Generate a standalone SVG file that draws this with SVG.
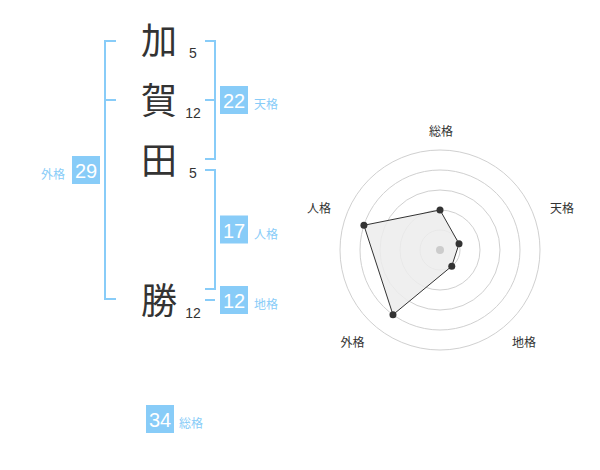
<svg xmlns="http://www.w3.org/2000/svg" width="600" height="470" viewBox="0 0 600 470">
<style>
.ch{font-family:"Noto Sans CJK JP","Noto Sans",sans-serif;font-size:36px;fill:#333;text-anchor:middle}
.st{font-family:"Liberation Sans",Arial,sans-serif;font-size:14px;fill:#333;text-anchor:middle}
.bx{fill:#88ccf8}
.bn{font-family:"Liberation Sans",Arial,sans-serif;font-size:20px;fill:#fff;text-anchor:middle}
.bl{font-family:"Noto Sans CJK JP",sans-serif;font-size:12px;fill:#88ccf8}
.br{fill:none;stroke:#88ccf8;stroke-width:2}
.ring{fill:none;stroke:#d0d0d0;stroke-width:1}
.rl{font-family:"Noto Sans CJK JP",sans-serif;font-size:12px;fill:#333;text-anchor:middle}
.pt{fill:#333}
</style>
<rect width="600" height="470" fill="#fff"/>
<g id="connectors">
<path class="br" d="M116,41 H105 V299 H116 M105,100 H116"/>
<path class="br" d="M205,41 H215 V159 H205 M205,100 H215"/>
<path class="br" d="M205,170 H215 V289 H205"/>
<path class="br" d="M205,300 H215"/>
</g>
<g id="char1"><text class="ch" x="159" y="53.5">加</text><text class="st" x="193" y="58">5</text></g>
<g id="char2"><text class="ch" x="159" y="113.5">賀</text><text class="st" x="193" y="118">12</text></g>
<g id="char3"><text class="ch" x="159" y="173.5">田</text><text class="st" x="193" y="178">5</text></g>
<g id="char4"><text class="ch" x="159" y="313.5">勝</text><text class="st" x="193" y="318">12</text></g>
<g id="gaikaku"><rect class="bx" x="72" y="156" width="28" height="28"/><text class="bn" x="86" y="178">29</text><text class="bl" x="53" y="179" text-anchor="middle">外格</text></g>
<g id="tenkaku"><rect class="bx" x="220" y="86" width="28" height="28"/><text class="bn" x="234" y="108">22</text><text class="bl" x="254" y="109">天格</text></g>
<g id="jinkaku"><rect class="bx" x="220" y="215.5" width="28" height="28"/><text class="bn" x="234" y="238">17</text><text class="bl" x="254" y="239">人格</text></g>
<g id="chikaku"><rect class="bx" x="220" y="286" width="28" height="28"/><text class="bn" x="234" y="308">12</text><text class="bl" x="254" y="309">地格</text></g>
<g id="soukaku"><rect class="bx" x="146" y="405" width="28" height="28"/><text class="bn" x="160" y="427">34</text><text class="bl" x="179" y="428">総格</text></g>
<g id="radar">
<circle class="ring" cx="440" cy="250" r="20"/>
<circle class="ring" cx="440" cy="250" r="40"/>
<circle class="ring" cx="440" cy="250" r="60"/>
<circle class="ring" cx="440" cy="250" r="80"/>
<circle class="ring" cx="440" cy="250" r="100"/>
<polygon points="440,210 459.02,243.82 451.76,266.18 392.98,314.72 363.92,225.28" fill="#ececec" fill-opacity="0.85" stroke="#333" stroke-width="1"/>
<circle cx="440" cy="250" r="4" fill="#ccc"/>
<circle class="pt" cx="440" cy="210" r="3.5"/>
<circle class="pt" cx="459.02" cy="243.82" r="3.5"/>
<circle class="pt" cx="451.76" cy="266.18" r="3.5"/>
<circle class="pt" cx="392.98" cy="314.72" r="3.5"/>
<circle class="pt" cx="363.92" cy="225.28" r="3.5"/>
<text class="rl" x="441" y="136">総格</text>
<text class="rl" x="562" y="212.5">天格</text>
<text class="rl" x="524" y="347">地格</text>
<text class="rl" x="352.5" y="347">外格</text>
<text class="rl" x="319" y="212.5">人格</text>
</g>
</svg>
